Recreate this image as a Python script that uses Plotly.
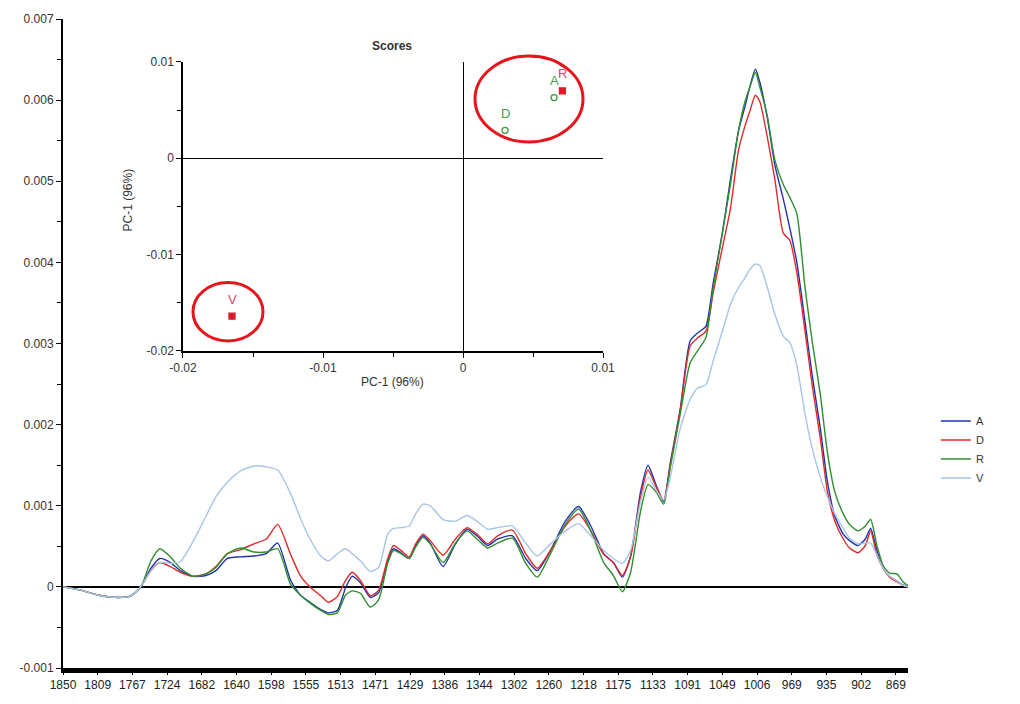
import numpy as np
import plotly.graph_objects as go

# ---------------- data ----------------
tick_labels = [1850, 1809, 1767, 1724, 1682, 1640, 1598, 1555, 1513, 1471, 1429, 1386,
               1344, 1302, 1260, 1218, 1175, 1133, 1091, 1049, 1006, 969, 935, 902, 869]

wavenumber = [1850, 1829, 1809, 1787, 1769, 1756, 1744, 1733, 1720, 1708, 1692, 1677,
              1665, 1651, 1635, 1619, 1604, 1590, 1574, 1562, 1550, 1537, 1528, 1517,
              1507, 1499, 1489, 1477, 1467, 1456, 1449, 1440, 1430, 1422, 1413, 1404,
              1388, 1373, 1359, 1347, 1334, 1322, 1304, 1288, 1274, 1258, 1240, 1224,
              1209, 1193, 1181, 1170, 1160, 1148, 1139, 1129, 1120, 1112, 1100, 1088,
              1079, 1069, 1060, 1049, 1039, 1029, 1021, 1015, 1008, 1003, 995, 987,
              978, 971, 964, 956, 949, 941, 934, 927, 919, 913, 905, 898, 893, 887,
              881, 875, 868, 862, 857]

abs_A = [0, -0.00004, -0.0001, -0.00013, -0.00011, 0.00001, 0.00023, 0.00035, 0.0003, 0.0002,
         0.00013, 0.00014, 0.0002, 0.00035, 0.00037, 0.00038, 0.00041, 0.00054, 0.00008, -0.0001,
         -0.00019, -0.00028, -0.00032, -0.00029, -0.00001, 0.00013, 0.00005, -0.00013, -0.00007,
         0.00032, 0.00047, 0.00042, 0.00035, 0.00051, 0.00063, 0.00054, 0.00025, 0.00053, 0.00071,
         0.00063, 0.00051, 0.00059, 0.00063, 0.00035, 0.0002, 0.00045, 0.00081, 0.00099, 0.00075,
         0.00041, 0.0003, 0.00012, 0.00038, 0.00117, 0.0015, 0.00125, 0.00105, 0.00153, 0.00219,
         0.00303, 0.00313, 0.00321, 0.00375, 0.00436, 0.00502, 0.00562, 0.00592, 0.00616, 0.00638,
         0.00622, 0.00578, 0.0052, 0.00478, 0.00442, 0.004, 0.00327, 0.00261, 0.00195, 0.00129,
         0.00087, 0.00065, 0.00057, 0.00051, 0.00059, 0.00072, 0.00045, 0.00023, 0.00013, 0.00007,
         0.00002, 0]

abs_D = [0, -0.00004, -0.0001, -0.00013, -0.00011, 0.00001, 0.0002, 0.0003, 0.00025, 0.00018,
         0.00013, 0.00016, 0.00025, 0.00041, 0.00046, 0.00053, 0.00059, 0.00077, 0.0004, 0.00014,
         0.0, -0.00011, -0.00019, -0.00012, 0.00008, 0.00018, 0.00008, -0.00011, -0.00004,
         0.00035, 0.00051, 0.00045, 0.00037, 0.00053, 0.00065, 0.00057, 0.00039, 0.00059, 0.00073,
         0.00065, 0.00053, 0.00063, 0.0007, 0.00041, 0.00023, 0.00045, 0.00075, 0.0009, 0.00069,
         0.0004, 0.0003, 0.00014, 0.00037, 0.00111, 0.00144, 0.00123, 0.00107, 0.0015, 0.00217,
         0.00297, 0.00307, 0.00315, 0.00363, 0.00418, 0.00466, 0.00538, 0.00568, 0.00586, 0.00606,
         0.00598, 0.00554, 0.00502, 0.00436, 0.00427, 0.00387, 0.00315, 0.00249, 0.00183, 0.00117,
         0.00081, 0.00059, 0.00048, 0.00042, 0.00051, 0.00069, 0.00039, 0.00023, 0.00012, 0.00006,
         0.00002, 0]

abs_R = [0, -0.00004, -0.0001, -0.00013, -0.00011, 0.00001, 0.00032, 0.00047, 0.00037, 0.00023,
         0.00013, 0.00016, 0.00024, 0.00041, 0.00048, 0.00043, 0.00043, 0.00047, 0.00003, -0.0001,
         -0.0002, -0.00029, -0.00034, -0.00032, -0.0001, -0.00005, -0.00008, -0.00025, -0.00016,
         0.00029, 0.00045, 0.00041, 0.00035, 0.00049, 0.00061, 0.00053, 0.0003, 0.00054, 0.00069,
         0.00059, 0.00048, 0.00054, 0.0006, 0.00029, 0.00012, 0.00041, 0.00077, 0.00096, 0.00069,
         0.0003, 0.00014, -0.00006, 0.00018, 0.00093, 0.00126, 0.00117, 0.00102, 0.00147, 0.00213,
         0.00276, 0.00291, 0.00307, 0.00369, 0.00436, 0.00496, 0.00562, 0.00598, 0.00616, 0.00634,
         0.00616, 0.0058, 0.00526, 0.00496, 0.0048, 0.0046, 0.00369, 0.00303, 0.00237, 0.00165,
         0.00117, 0.0009, 0.00077, 0.00069, 0.00075, 0.00083, 0.00051, 0.00026, 0.00017, 0.00016,
         0.00006, 0.00001]

abs_V = [0, -0.00004, -0.0001, -0.00013, -0.00011, 0.00001, 0.0002, 0.0003, 0.00029, 0.00031,
         0.00057, 0.00087, 0.00111, 0.00129, 0.00143, 0.00149, 0.00148, 0.00144, 0.00115, 0.00085,
         0.00059, 0.00038, 0.00032, 0.00041, 0.00047, 0.00041, 0.00032, 0.00019, 0.00024,
         0.00065, 0.00072, 0.00073, 0.00075, 0.0009, 0.00102, 0.001, 0.00083, 0.00081, 0.00088,
         0.00081, 0.00071, 0.00073, 0.00075, 0.00054, 0.00038, 0.00053, 0.00069, 0.00078, 0.00063,
         0.00045, 0.00035, 0.00029, 0.00045, 0.00105, 0.00135, 0.00119, 0.00107, 0.00135, 0.00195,
         0.00231, 0.00245, 0.00249, 0.00279, 0.00315, 0.00348, 0.00369, 0.00381, 0.00391, 0.00398,
         0.00396, 0.00369, 0.00336, 0.00309, 0.00301, 0.00273, 0.00213, 0.00171, 0.00135, 0.00111,
         0.0009, 0.00072, 0.0006, 0.00053, 0.00054, 0.00054, 0.00039, 0.00023, 0.00013, 0.00007,
         0.00002, 0]

series_names = ["A", "D", "R", "V"]
series_colors = ["#2433b0", "#e02a2a", "#2f8f2f", "#a9c5e6"]

# PCA scores (inset)
score_labels = ["A", "D", "R", "V"]
score_pc_x = [0.0065, 0.0030, 0.0071, -0.0165]
score_pc_y = [0.0063, 0.0029, 0.0070, -0.0164]
score_symbols = ["circle-open", "circle-open", "square", "square"]
score_colors = ["#3c9a3c", "#3c9a3c", "#d41e2a", "#d41e2a"]
score_text_colors = ["#4aa04a", "#4aa04a", "#d04a64", "#d04a64"]

main_y_ticks = [-0.001, 0, 0.001, 0.002, 0.003, 0.004, 0.005, 0.006, 0.007]
main_y_text = ["-0.001", "0", "0.001", "0.002", "0.003", "0.004", "0.005", "0.006", "0.007"]
inset_ticks = [-0.02, -0.01, 0, 0.01]
inset_text = ["-0.02", "-0.01", "0", "0.01"]

# ---------------- category-style x positions ----------------
ext_labels = tick_labels + [tick_labels[-1] - 33]
cat_index = np.arange(len(ext_labels))
x_pos = np.interp(-np.array(wavenumber, dtype=float), -np.array(ext_labels, dtype=float), cat_index)

FONT = "Liberation Sans, Arial"

fig = go.Figure()
for name, color, vals in zip(series_names, series_colors, [abs_A, abs_D, abs_R, abs_V]):
    fig.add_trace(go.Scatter(x=x_pos, y=vals, mode="lines", name=name,
                             line=dict(color=color, width=1.4, shape="spline", smoothing=0.6),
                             xaxis="x", yaxis="y"))

for lab, px, py, sym, col in zip(score_labels, score_pc_x, score_pc_y, score_symbols, score_colors):
    fig.add_trace(go.Scatter(x=[px], y=[py], mode="markers", showlegend=False,
                             marker=dict(symbol=sym, size=6, color=col,
                                         line=dict(color=col, width=1.3)),
                             xaxis="x2", yaxis="y2"))

annotations = []
for lab, px, py, col in zip(score_labels, score_pc_x, score_pc_y, score_text_colors):
    annotations.append(dict(x=px, y=py, xref="x2", yref="y2", text=lab, showarrow=False,
                            yshift=17, font=dict(size=13, color=col, family=FONT)))

annotations += [
    dict(x=0.389, y=0.959, xref="paper", yref="paper", text="<b>Scores</b>", showarrow=False,
         xanchor="center", yanchor="middle", font=dict(size=12, color="#333", family=FONT)),
    dict(x=0.3905, y=0.4406, xref="paper", yref="paper", text="PC-1 (96%)", showarrow=False,
         xanchor="center", yanchor="middle", font=dict(size=12, color="#333", family=FONT)),
    dict(x=0.0769, y=0.7218, xref="paper", yref="paper", text="PC-1 (96%)", showarrow=False,
         xanchor="center", yanchor="middle", textangle=-90,
         font=dict(size=12, color="#333", family=FONT)),
]

shapes = [
    dict(type="circle", xref="paper", yref="paper", x0=0.4876, x1=0.6154, y0=0.8105, y1=0.9429,
         line=dict(color="#e8141c", width=3)),
    dict(type="circle", xref="paper", yref="paper", x0=0.1538, x1=0.2367, y0=0.5038, y1=0.594,
         line=dict(color="#e8141c", width=3)),
]

fig.update_layout(
    width=1020, height=704,
    margin=dict(l=63, r=112, t=15, b=24),
    paper_bgcolor="white", plot_bgcolor="white",
    font=dict(family=FONT, size=12, color="#333"),
    showlegend=True,
    legend=dict(x=1.033, y=0.403, xanchor="left", yanchor="top", font=dict(size=11, color="#333"),
                itemwidth=30, bgcolor="rgba(0,0,0,0)", tracegroupgap=0),
    xaxis=dict(domain=[0, 1], range=[0, 24.35], tickmode="array", tickvals=list(range(len(tick_labels))),
               ticktext=[str(t) for t in tick_labels], showgrid=False, zeroline=False,
               showline=True, linecolor="black", linewidth=5, ticks="outside", ticklen=2,
               tickcolor="black", tickfont=dict(size=12, color="#222")),
    yaxis=dict(domain=[0, 1], range=[-0.001, 0.007], tickmode="array", tickvals=main_y_ticks,
               ticktext=main_y_text, showgrid=False, zeroline=True, zerolinecolor="black",
               zerolinewidth=1.5, showline=True, linecolor="black", linewidth=2,
               ticks="outside", ticklen=5, tickcolor="black",
               minor=dict(dtick=0.0005, ticks="outside", ticklen=4, tickcolor="black", showgrid=False),
               tickfont=dict(size=12, color="#333")),
    xaxis2=dict(domain=[0.1420, 0.6391], anchor="y2", range=[-0.02, 0.01], tickmode="array",
                tickvals=inset_ticks, ticktext=inset_text, showgrid=False, zeroline=True,
                zerolinecolor="black", zerolinewidth=1, showline=True, linecolor="black",
                linewidth=1.5, ticks="outside", ticklen=5, tickcolor="black",
                minor=dict(dtick=0.005, ticks="outside", ticklen=4, tickcolor="black", showgrid=False),
                tickfont=dict(size=12, color="#333")),
    yaxis2=dict(domain=[0.4887, 0.9338], anchor="x2", range=[-0.02, 0.01], tickmode="array",
                tickvals=inset_ticks, ticktext=inset_text, showgrid=False, zeroline=True,
                zerolinecolor="black", zerolinewidth=1, showline=True, linecolor="black",
                linewidth=1.5, ticks="outside", ticklen=5, tickcolor="black",
                minor=dict(dtick=0.005, ticks="outside", ticklen=4, tickcolor="black", showgrid=False),
                tickfont=dict(size=12, color="#333")),
    annotations=annotations,
    shapes=shapes,
)

fig.write_html("out.html")
